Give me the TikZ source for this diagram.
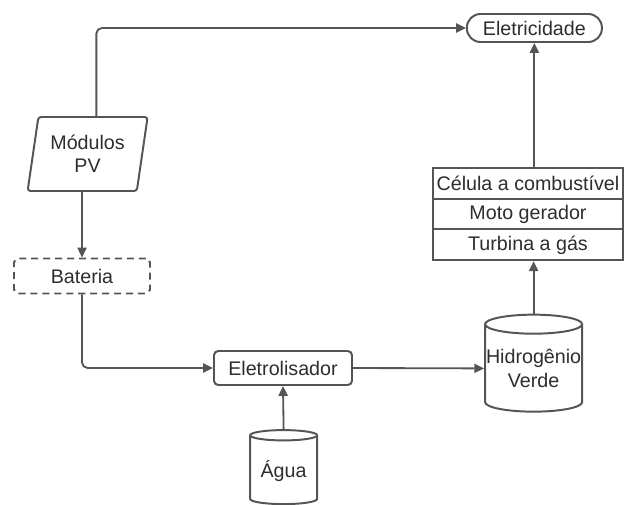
\documentclass[tikz,border=0pt]{standalone}
\usepackage{fontspec}
\setmainfont{Liberation Sans}
\usepackage{tikz}
\usetikzlibrary{
  shapes.geometric,
  arrows.meta,
  positioning, calc
}
\definecolor{lncol}{RGB}{85,85,85}
\definecolor{txtcol}{RGB}{45,45,45}
\tikzset{
  base/.style={draw=lncol,line width=1.4pt,text=txtcol,align=center,
    font=\fontsize{14}{16.5}\selectfont,inner sep=2pt},
  ovalnode/.style={base,rectangle,rounded corners=0.34cm,minimum width=3.375cm,minimum height=0.7cm},
  boxnode/.style={base,rectangle,rounded corners=3pt,minimum width=3.45cm,minimum height=0.85cm},
  dashnode/.style={boxnode,dash pattern=on 5pt off 3.5pt,minimum width=3.4cm,minimum height=0.875cm},
  pvnode/.style={base,trapezium,trapezium left angle=76,trapezium right angle=104,
    trapezium stretches body,minimum width=3.0cm,minimum height=1.85cm,rounded corners=2pt},
  tanknode/.style={base,cylinder,shape border rotate=90,aspect=0.2},
  rownode/.style={base,rectangle,minimum width=4.75cm,minimum height=0.77cm},
  arr/.style={-{Triangle[length=7pt,width=6.5pt]},line width=1.3pt,draw=lncol,rounded corners=4pt}
}
\begin{document}
\begin{tikzpicture}

  \useasboundingbox (0,0) rectangle (15.625,12.6);

  % Nodes
  \node[ovalnode] (elet) at (13.36,11.9) {Eletricidade};
  \node[pvnode] (pv) at (2.19,8.75) {Módulos\\PV};
  \node[dashnode] (bat) at (2.05,5.7) {Bateria};
  \node[boxnode] (eletro) at (7.075,3.4) {Eletrolisador};
  \node[tanknode,minimum width=1.675cm,minimum height=1.85cm] (agua) at (7.09,0.82) {Água};
  \node[tanknode,minimum width=2.425cm,minimum height=2.425cm,inner sep=0pt] (h2) at (13.34,3.39) {Hidrogênio\\Verde};

  % Conversion table
  \node[rownode] (tab1) at (13.2,8.017) {Célula a combustível};
  \node[rownode] (tab2) at (13.2,7.25) {Moto gerador};
  \node[rownode] (tab3) at (13.2,6.48) {Turbina a gás};

  % Connectors
  \draw[arr] ($(pv.top side)+(0.08,0)$) |- (elet.west);
  \draw[arr] (pv.bottom side) -- (pv.bottom side |- bat.north);
  \draw[arr] (bat.south) |- (eletro.west);
  \draw[arr] (agua.north) -- (eletro.south);
  \draw[arr] (eletro.east) -- (h2.west);
  \draw[arr] (h2.north) -- (h2.north |- tab3.south);
  \draw[arr] (elet.south |- tab1.north) -- (elet.south);

\end{tikzpicture}
\end{document}
